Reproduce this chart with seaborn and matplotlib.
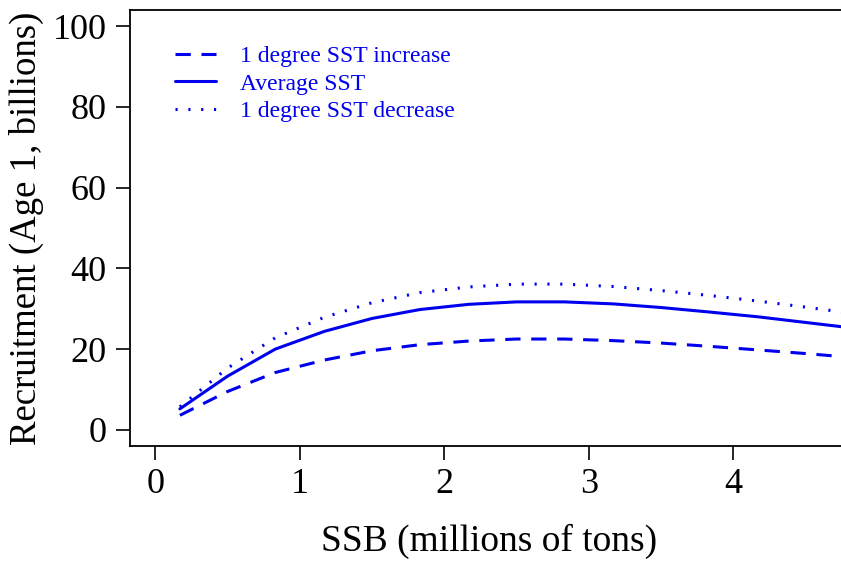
import numpy as np
import pandas as pd
import matplotlib
matplotlib.use("Agg")
import matplotlib.pyplot as plt
import seaborn as sns

# Spawning stock biomass (millions of tons)
ssb = [0.17, 0.50, 0.83, 1.17, 1.50, 1.83, 2.17, 2.50, 2.83, 3.17, 3.50, 3.83, 4.17, 4.50, 4.83]

# Predicted age-1 recruitment (billions) under three temperature scenarios
rec_increase = [3.6, 9.5, 14.2, 17.3, 19.6, 21.1, 22.0, 22.5, 22.5, 22.1, 21.5, 20.7, 19.8, 18.9, 17.9]
rec_average = [5.2, 13.3, 20.0, 24.4, 27.6, 29.8, 31.1, 31.7, 31.7, 31.2, 30.3, 29.2, 28.0, 26.6, 25.2]
rec_decrease = [5.7, 15.3, 22.8, 27.9, 31.5, 34.0, 35.4, 36.1, 36.1, 35.5, 34.5, 33.3, 31.9, 30.4, 28.8]

scenarios = ["1 degree SST increase", "Average SST", "1 degree SST decrease"]

x_ticks = [0, 1, 2, 3, 4]
y_ticks = [0, 20, 40, 60, 80, 100]

df = pd.DataFrame({
    "SSB": ssb * 3,
    "Recruitment": rec_increase + rec_average + rec_decrease,
    "Scenario": [scenarios[0]] * len(ssb) + [scenarios[1]] * len(ssb) + [scenarios[2]] * len(ssb),
})

sns.set_style("ticks")
plt.rcParams["font.family"] = ["Liberation Serif", "DejaVu Serif"]

fig = plt.figure(figsize=(8.41, 5.62), dpi=100)
ax = fig.add_axes([0.1546, 0.2064, 0.855, 0.7758])

dash_styles = {
    scenarios[0]: (0, (5.0, 3.5)),
    scenarios[1]: "-",
    scenarios[2]: (0, (0.7, 3.5)),
}
for name in scenarios:
    sub = df[df["Scenario"] == name]
    sns.lineplot(data=sub, x="SSB", y="Recruitment", ax=ax, color="#0000ee",
                 linewidth=2.2, linestyle=dash_styles[name], label=name,
                 estimator=None, sort=False)

ax.set_xlim(-0.175, 4.8)
ax.set_ylim(-4, 104)
ax.set_xticks(x_ticks)
ax.set_yticks(y_ticks)
ax.tick_params(axis="both", direction="out", length=10, width=1.2,
               labelsize=26, colors="black")
ax.tick_params(axis="y", pad=7)
ax.tick_params(axis="x", pad=6)
for side in ["left", "bottom", "top"]:
    ax.spines[side].set_linewidth(1.3)
    ax.spines[side].set_color("black")
ax.spines["right"].set_visible(False)

ax.set_xlabel("SSB (millions of tons)", fontsize=27, labelpad=16, color="black")
ax.set_ylabel("Recruitment (Age 1, billions)", fontsize=26.5, labelpad=6, color="black")

leg = ax.legend(loc="upper left", bbox_to_anchor=(0.05, 0.94), frameon=False,
                fontsize=17, handlelength=1.7, handletextpad=1.05,
                labelspacing=0.25, borderaxespad=0)
for t in leg.get_texts():
    t.set_color("#0000ee")

fig.savefig("out.png", dpi=100)
